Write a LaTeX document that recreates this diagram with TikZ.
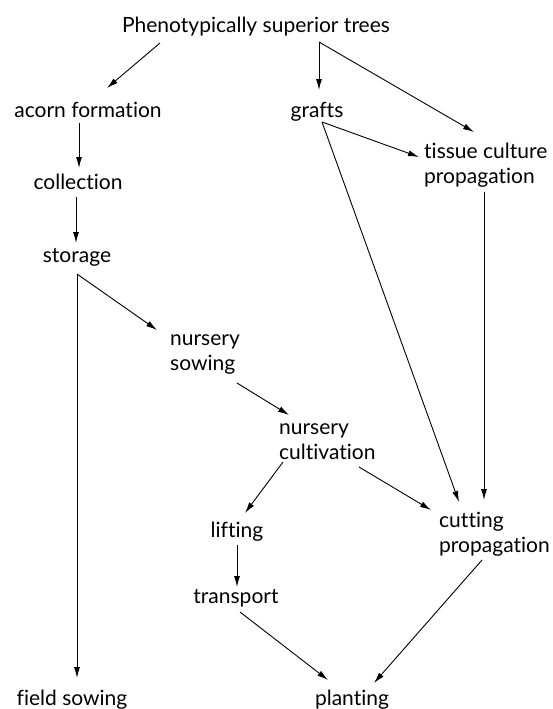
\documentclass[tikz,border=0pt]{standalone}
\usepackage{fontspec}
\setmainfont{Lato}[Ligatures={NoCommon}]
\usetikzlibrary{arrows.meta}
\tikzset{
  lbl/.style={inner sep=0pt, font=\fontsize{21}{25}\selectfont, text=black},
  lblw/.style={lbl, align=left, anchor=west},
  arr/.style={-{Latex[length=11pt,width=6pt]}, line width=0.9pt},
  ln/.style={line width=0.9pt}
}
\begin{document}
\begin{tikzpicture}[x=1pt,y=-1pt]
\useasboundingbox[fill=white] (0,0) rectangle (552,709);
\node[lbl] (pst) at (256,27) {Phenotypically superior trees};
\node[lbl] (acorn) at (88,110) {acorn formation};
\node[lbl] (grafts) at (317,112) {grafts};
\node[lblw] (tissue) at (424,165) {tissue culture\\propagation};
\node[lbl] (coll) at (78,182) {collection};
\node[lbl] (stor) at (77,257) {storage};
\node[lblw] (nsow) at (170,354) {nursery\\sowing};
\node[lblw] (ncult) at (279,442) {nursery\\cultivation};
\node[lbl] (lift) at (237,532) {lifting};
\node[lblw] (cut) at (439,534) {cutting\\propagation};
\node[lbl] (trans) at (236,598) {transport};
\node[lbl] (field) at (72,700) {field sowing};
\node[lbl] (plant) at (352,700) {planting};
\coordinate (storcorner) at ([shift={(0,17)}]stor.center);
\coordinate (pstfork) at ([shift={(63,15)}]pst.center);
\coordinate (graftsfork) at ([shift={(5,10)}]grafts.center);
% connectors
\draw[arr] ([shift={(-96,16)}]pst.center) -- ([shift={(19,-22)}]acorn.center);
\draw[arr] (pstfork) -- ([shift={(2,-22)}]grafts.center);
\draw[arr] (pstfork) -- ([shift={(50,-33)}]tissue.west);
\draw[arr] ([shift={(-9,13)}]acorn.center) -- ([shift={(1,-14)}]coll.center);
\draw[arr] ([shift={(-2,15)}]coll.center) -- ([shift={(-1,-14)}]stor.center);
\draw[arr] (graftsfork) -- ([shift={(-5,-8)}]tissue.west);
\draw[arr] (graftsfork) -- ([shift={(20,-32)}]cut.west);
\draw[arr] ([shift={(60,27)}]tissue.west) -- ([shift={(45,-34)}]cut.west);
\draw[arr] (storcorner) -- ([shift={(5,-22)}]field.center);
\draw[arr] (storcorner) -- ([shift={(-13,-24)}]nsow.west);
\draw[arr] ([shift={(67,29)}]nsow.west) -- ([shift={(10,-27)}]ncult.west);
\draw[arr] ([shift={(4,20)}]ncult.west) -- ([shift={(8,-19)}]lift.center);
\draw[arr] ([shift={(80,25)}]ncult.west) -- ([shift={(-8,-24)}]cut.west);
\draw[arr] ([shift={(0,13)}]lift.center) -- ([shift={(1,-11)}]trans.center);
\draw[arr] ([shift={(4,14)}]trans.center) -- ([shift={(-24,-20)}]plant.center);
\draw[arr] ([shift={(43,26)}]cut.west) -- ([shift={(22,-17)}]plant.center);
\end{tikzpicture}
\end{document}
